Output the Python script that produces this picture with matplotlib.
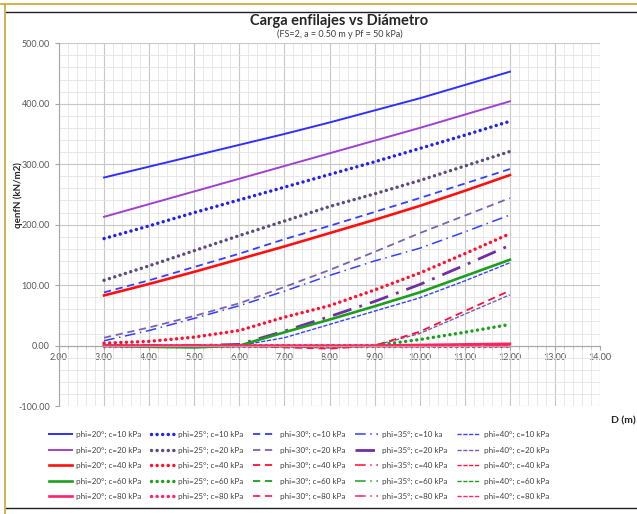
import matplotlib
matplotlib.use("Agg")
import matplotlib.pyplot as plt
from matplotlib.lines import Line2D
from matplotlib.ticker import MultipleLocator, FormatStrFormatter

plt.rcParams['font.family'] = ['Lato', 'DejaVu Sans']

# ---------------- data ----------------
D = [3, 4, 5, 6, 7, 8, 9, 10, 11, 12]

phi20_c10 = [278, 296, 314, 332, 350, 369, 389, 409, 431, 453]
phi20_c20 = [213, 234, 255, 276, 297, 318, 339, 360, 382, 404]
phi20_c40 = [83, 102, 122, 143, 164, 186, 208, 231, 256, 282]
phi20_c60 = [0, -2, -3, 0, 22, 43, 65, 88, 115, 142]
phi20_c80 = [0, 0, 0, 0, 0, 0, 0, 1, 2, 3]

phi25_c10 = [177, 198, 220, 241, 262, 283, 304, 326, 348, 371]
phi25_c20 = [108, 132, 157, 182, 206, 230, 251, 273, 297, 321]
phi25_c40 = [4, 7, 14, 25, 47, 66, 92, 120, 152, 185]
phi25_c60 = [0, 0, 0, 0, 0, 0, 0, 10, 22, 35]
phi25_c80 = [0, 0, 0, 0, 0, 0, 0, 0, 0, 0]

phi30_c10 = [88, 108, 130, 152, 176, 198, 221, 244, 268, 292]
phi30_c20 = [13, 30, 49, 70, 97, 125, 155, 186, 215, 244]
phi30_c40 = [0, 0, 0, 0, -3, -5, 0, 23, 57, 91]
phi30_c60 = [0, 0, 0, 0, 0, 0, 0, 0, 0, 0]
phi30_c80 = [0, 0, 0, 0, 0, 0, 0, 0, 0, 0]

phi35_c10 = [8, 25, 45, 66, 90, 116, 140, 161, 188, 216]
phi35_c20 = [0, 0, 0, 2, 24, 48, 73, 101, 133, 166]
phi35_c40 = [0, 0, 0, 0, 0, 0, 0, 0, 0, 0]
phi35_c60 = [0, 0, 0, 0, 0, 0, 0, 0, 0, 0]
phi35_c80 = [0, 0, 0, 0, 0, 0, 0, 0, 0, 0]

phi40_c10 = [0, 0, 0, 0, 13, 35, 57, 79, 107, 137]
phi40_c20 = [0, 0, 0, 0, -2, -4, 0, 20, 52, 84]
phi40_c40 = [0, 0, 0, 0, 0, 0, 0, 0, 0, 0]
phi40_c60 = [0, 0, 0, 0, 0, 0, 0, 0, 0, 0]
phi40_c80 = [0, 0, 0, 0, 0, 0, 0, 0, 0, 0]

phis = [20, 25, 30, 35, 40]
cs = [10, 20, 40, 60, 80]
values = {
    (20, 10): phi20_c10, (20, 20): phi20_c20, (20, 40): phi20_c40, (20, 60): phi20_c60, (20, 80): phi20_c80,
    (25, 10): phi25_c10, (25, 20): phi25_c20, (25, 40): phi25_c40, (25, 60): phi25_c60, (25, 80): phi25_c80,
    (30, 10): phi30_c10, (30, 20): phi30_c20, (30, 40): phi30_c40, (30, 60): phi30_c60, (30, 80): phi30_c80,
    (35, 10): phi35_c10, (35, 20): phi35_c20, (35, 40): phi35_c40, (35, 60): phi35_c60, (35, 80): phi35_c80,
    (40, 10): phi40_c10, (40, 20): phi40_c20, (40, 40): phi40_c40, (40, 60): phi40_c60, (40, 80): phi40_c80,
}

def label_for(phi, c):
    if phi == 35 and c == 10:
        return "phi=35°; c=10 ka"
    return f"phi={phi}°; c={c} kPa"

# ---------------- styles ----------------
colors = {
    (20, 10): "#2F2FFF", (25, 10): "#2222EE", (30, 10): "#3340FF", (35, 10): "#3340FF", (40, 10): "#3344FF",
    (20, 20): "#A040D0", (25, 20): "#5F4B7B", (30, 20): "#7A62B0", (35, 20): "#7030A0", (40, 20): "#7A5CB0",
    (20, 40): "#FF1010", (25, 40): "#FF1030", (30, 40): "#FF1030", (35, 40): "#FF1030", (40, 40): "#FF1040",
    (20, 60): "#1E9E1E", (25, 60): "#1E9E1E", (30, 60): "#1E9E1E", (35, 60): "#1E9E1E", (40, 60): "#1E9E1E",
    (20, 80): "#FF2464", (25, 80): "#FF2464", (30, 80): "#FF2464", (35, 80): "#FF2464", (40, 80): "#FF2464",
}
styles = {
    20: dict(ls='-', lw=1.4),
    25: dict(ls=(0, (0.01, 1.6)), lw=2.5, dash_capstyle='round'),
    30: dict(ls=(0, (4, 2.6)), lw=1.3),
    35: dict(ls=(0, (7, 3, 1, 3)), lw=1.1),
    40: dict(ls=(0, (3, 1.2)), lw=1.0),
}

fig = plt.figure(figsize=(6.37, 5.14), dpi=100)
ax = fig.add_axes([0.0926, 0.21, 0.8494, 0.7058])

handles = {}
for c in cs:
    for phi in phis:
        st = dict(styles[phi])
        if phi == 20 and c in (40, 60, 80):
            st['lw'] = 1.9
        if phi == 35 and c == 20:
            st['lw'] = 2.0
        ln, = ax.plot(D, values[(phi, c)], color=colors[(phi, c)],
                      label=label_for(phi, c), **st)
        handles[(phi, c)] = ln

ax.set_xlim(2, 14)
ax.set_ylim(-100, 500)
ax.xaxis.set_major_locator(MultipleLocator(1))
ax.xaxis.set_minor_locator(MultipleLocator(0.2))
ax.yaxis.set_major_locator(MultipleLocator(100))
ax.yaxis.set_minor_locator(MultipleLocator(20))
ax.xaxis.set_major_formatter(FormatStrFormatter('%.2f'))
ax.yaxis.set_major_formatter(FormatStrFormatter('%.2f'))
ax.grid(which='major', color='#C8C8C8', lw=0.8)
ax.grid(which='minor', color='#E4E4E4', lw=0.6)
ax.set_axisbelow(True)

for s in ['top', 'right']:
    ax.spines[s].set_visible(False)
ax.spines['bottom'].set_position(('data', 0))
ax.spines['bottom'].set_color('#A6A6A6')
ax.spines['left'].set_color('#A6A6A6')
ax.tick_params(axis='both', which='major', labelsize=6.5, colors='#A6A6A6',
               labelcolor='#595959', length=3)
ax.tick_params(axis='x', which='minor', length=2, colors='#BFBFBF')
ax.tick_params(axis='y', which='minor', length=0)
ax.tick_params(axis='x', which='major', pad=2)

# titles
fig.text(0.533, 1 - 21.5 / 514, "Carga enfilajes vs Diámetro", ha='center', va='center',
         fontsize=10.5, fontweight='bold', color='#262626')
fig.text(0.533, 1 - 34 / 514, "(FS=2, a = 0.50 m y Pf = 50 kPa)", ha='center', va='center',
         fontsize=6.5, color='#404040')
fig.text(18 / 637, 1 - 195 / 514, "qenfN (kN/m2)", rotation=90, ha='center', va='center',
         fontsize=7, fontweight='bold', color='#262626')
fig.text(611 / 637, 1 - 421 / 514, "D (m)", ha='left', va='center',
         fontsize=7.5, fontweight='bold', color='#262626')

# legend (columns = phi)
order = [handles[(phi, c)] for phi in phis for c in cs]
leg = fig.legend(handles=order, labels=[h.get_label() for h in order], ncol=5,
                 loc='upper left', bbox_to_anchor=(49 / 637, 1 - 431 / 514),
                 fontsize=5.8, frameon=False, handlelength=2.9, handletextpad=0.5,
                 columnspacing=1.15, labelspacing=1.05, borderaxespad=0, borderpad=0)
for t in leg.get_texts():
    t.set_color('#404040')

# document border lines
fig.add_artist(Line2D([0, 1], [1 - 4 / 514, 1 - 4 / 514], color='#C8A830', lw=1.2))
fig.add_artist(Line2D([6 / 637, 1], [1 - 12 / 514, 1 - 12 / 514], color='#202020', lw=1.0))
fig.add_artist(Line2D([6 / 637, 1], [1 - 508 / 514, 1 - 508 / 514], color='#202020', lw=1.0))
fig.add_artist(Line2D([5 / 637, 5 / 637], [0, 1 - 4 / 514], color='#C8A830', lw=1.2))

fig.savefig("out.png", dpi=100)
